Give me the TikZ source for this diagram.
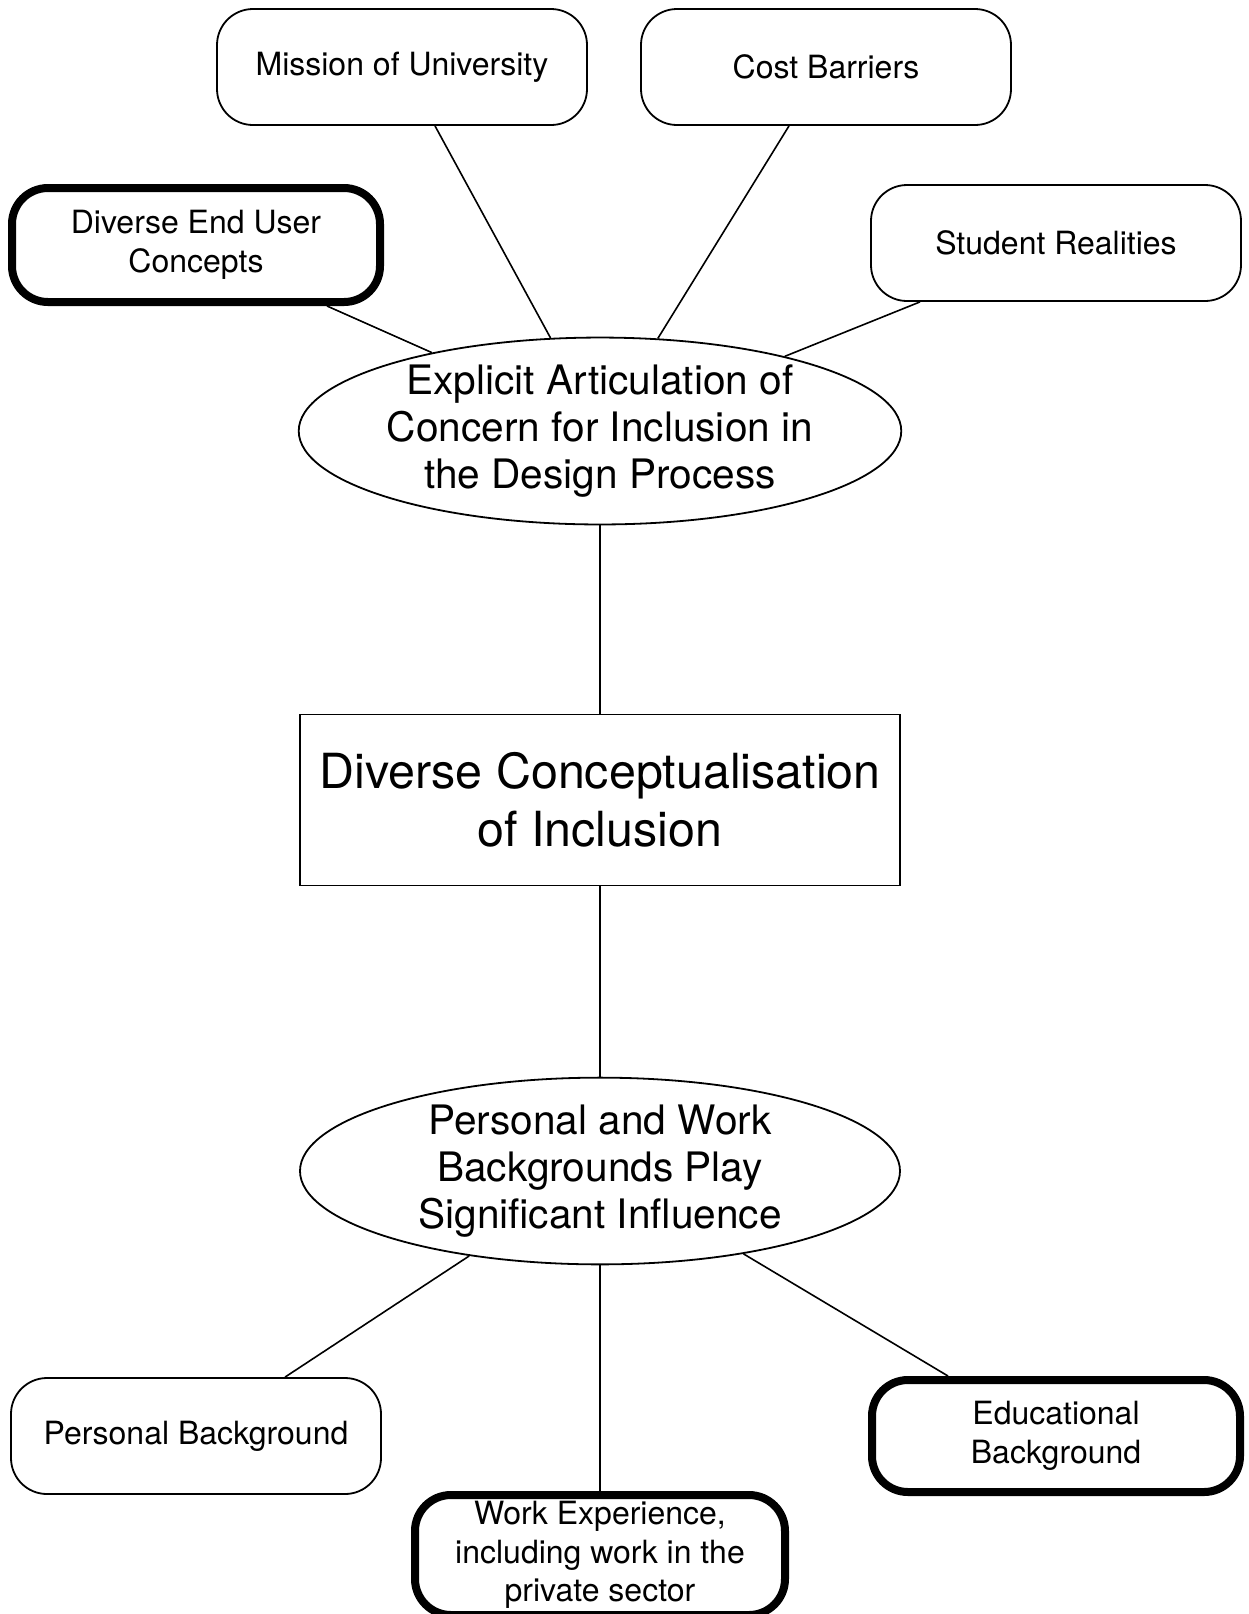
\documentclass[tikz,border=0pt]{standalone}
\usepackage{fontspec}
\setmainfont{TeX Gyre Heros}
\usetikzlibrary{shapes.geometric}

\tikzset{
  topic/.style={draw, rounded corners=18pt, line width=0.9pt, minimum width=185pt,
    minimum height=58pt, align=center, inner sep=0pt,
    font=\fontsize{16}{19.3}\selectfont},
  keytopic/.style={topic, line width=4pt},
  theme/.style={draw, ellipse, line width=0.9pt, minimum width=300pt,
    minimum height=93pt, inner sep=0pt, align=center,
    font=\fontsize{20.3}{23.4}\selectfont},
  core/.style={draw, rectangle, line width=0.9pt, minimum width=300pt,
    minimum height=85.5pt, inner sep=0pt, align=center,
    font=\fontsize{24.2}{28.8}\selectfont},
  link/.style={line width=0.8pt}
}

\begin{document}
\begin{tikzpicture}[x=0.5pt, y=-0.5pt]
    \useasboundingbox (0,0) rectangle (1249,1614);
      \node[topic] (mission) at (402, 67) {Mission of University};
      \node[topic] (cost) at (826, 67) {Cost Barriers};
      \node[keytopic, minimum width=184pt, minimum height=57pt] (enduser) at (196, 245) {Diverse End User\\Concepts};
      \node[topic] (realities) at (1056, 243) {Student Realities};
      \node[theme] (articulation) at (600, 431) {Explicit Articulation of\\Concern for Inclusion in\\the Design Process};
      \node[core] (concept) at (600, 800) {Diverse Conceptualisation\\of Inclusion};
      \node[theme] (backgrounds) at (600, 1171) {Personal and Work\\Backgrounds Play\\Significant Influence};
      \node[topic] (personal) at (196, 1436) {Personal Background};
      \node[keytopic, minimum width=184pt, minimum height=56pt] (education) at (1056, 1436) {Educational\\Background};
      \node[keytopic, minimum width=185pt, minimum height=60pt] (work) at (600, 1555) {Work Experience,\\including work in the\\private sector};
      \draw[link] ([xshift=16.5pt]mission.south) -- (articulation.118);
      \draw[link] ([xshift=-18.5pt]cost.south) -- (articulation.58);
      \draw[link] ([xshift=65.5pt]enduser.south) -- (articulation.155);
      \draw[link] ([xshift=-68pt]realities.south) -- (articulation.22);
      \draw[link] (articulation.south) -- (concept.north);
      \draw[link] (concept.south) -- (backgrounds.north);
      \draw[link] (backgrounds.-147) -- ([xshift=44.5pt]personal.north);
      \draw[link] (backgrounds.south) -- (work.north);
      \draw[link] (backgrounds.-30) -- ([xshift=-54pt]education.north);
\end{tikzpicture}
\end{document}
